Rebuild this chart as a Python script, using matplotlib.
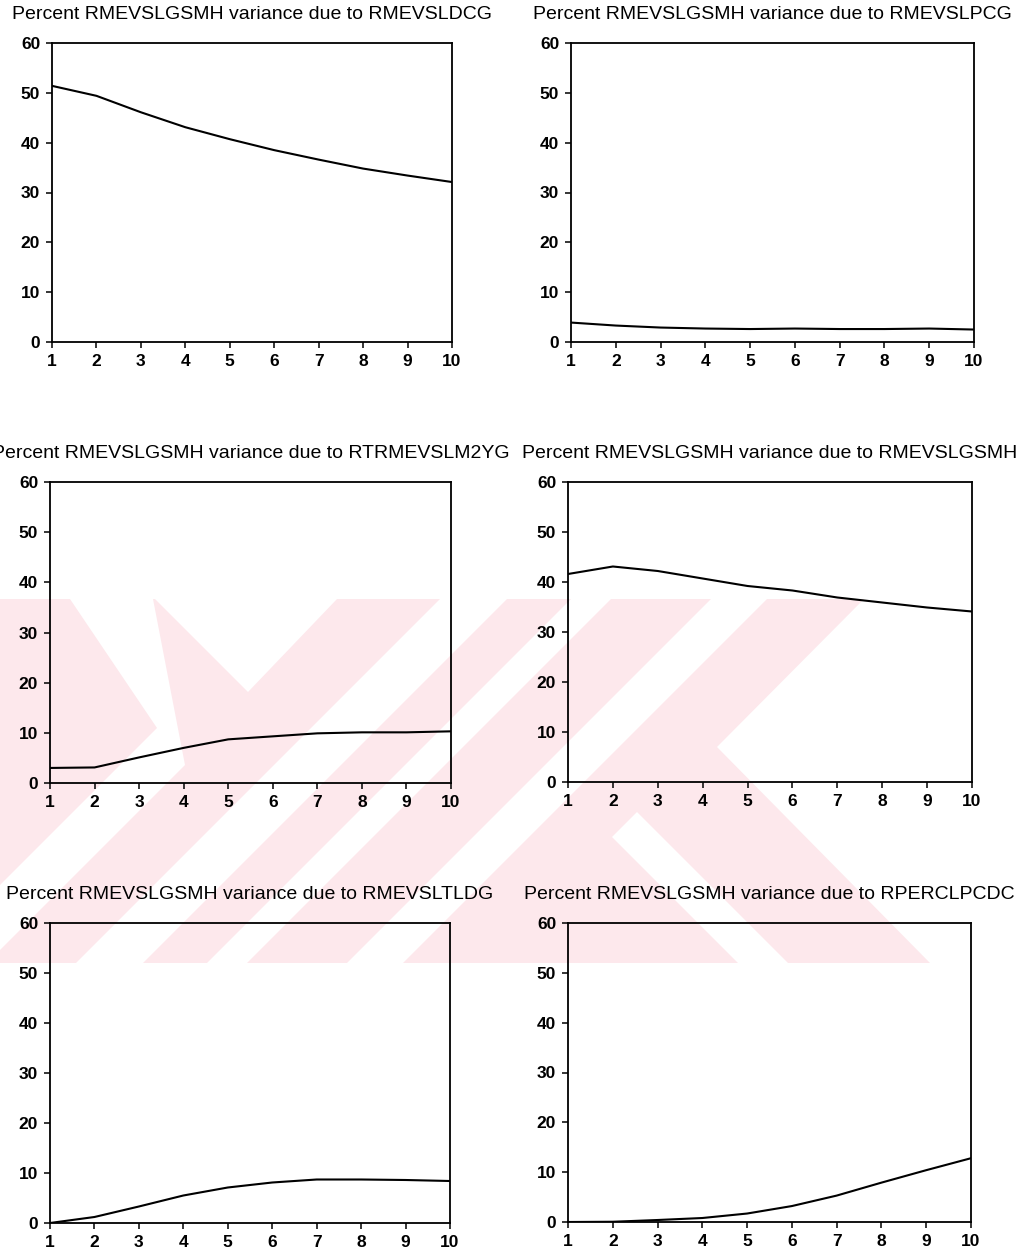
import matplotlib
matplotlib.use("Agg")
import matplotlib.pyplot as plt
from matplotlib.patches import Polygon

plt.rcParams["font.family"] = ["Liberation Sans", "DejaVu Sans"]

W, H = 1030, 1252

response = "RMEVSLGSMH"
shocks = ["RMEVSLDCG", "RMEVSLPCG", "RTRMEVSLM2YG", "RMEVSLGSMH", "RMEVSLTLDG", "RPERCLPCDC"]
horizon = [1, 2, 3, 4, 5, 6, 7, 8, 9, 10]

share_dcg = [51.4, 49.4, 46.1, 43.1, 40.7, 38.5, 36.6, 34.8, 33.4, 32.1]
share_pcg = [3.9, 3.3, 2.9, 2.7, 2.6, 2.7, 2.6, 2.6, 2.7, 2.5]
share_m2yg = [3.0, 3.1, 5.1, 7.0, 8.7, 9.3, 9.9, 10.1, 10.1, 10.3]
share_gsmh = [41.6, 43.1, 42.2, 40.7, 39.2, 38.3, 36.9, 35.9, 34.9, 34.1]
share_tldg = [0.0, 1.2, 3.3, 5.5, 7.1, 8.1, 8.7, 8.7, 8.6, 8.4]
share_pcdc = [0.0, 0.05, 0.4, 0.8, 1.7, 3.2, 5.3, 7.9, 10.4, 12.8]
series = [share_dcg, share_pcg, share_m2yg, share_gsmh, share_tldg, share_pcdc]

y_ticks = [0, 10, 20, 30, 40, 50, 60]

# panel boxes in pixels: left, right, top, bottom
boxes = [
    (52, 452, 43, 342), (571, 974, 43, 342),
    (50, 451, 482, 783), (568, 972, 482, 782),
    (50, 450, 923, 1223), (568, 971, 923, 1222),
]


def fig_xy(x, y):
    return (x / W, 1 - y / H)


fig = plt.figure(figsize=(W / 100, H / 100), dpi=100)
fig.patch.set_facecolor("white")

# faint background stamp across the middle band
pink = "#fde8ec"
band_top, band_bot = 599, 963


def add_shape(pts, color):
    fig.patches.append(Polygon([fig_xy(*p) for p in pts], closed=True,
                               transform=fig.transFigure, facecolor=color,
                               edgecolor="none", zorder=-2))


def slash_stripe(a, b):
    # band of x + y between a and b, clipped to the stamp rows
    return [(a - band_top, band_top), (b - band_top, band_top),
            (b - band_bot, band_bot), (a - band_bot, band_bot)]


add_shape([(0, band_top), (W, band_top), (W, band_bot), (0, band_bot)], pink)
white_shapes = [
    [(155, 599), (337, 599), (248, 692)],
    [(70, 599), (153, 599), (185, 765), (0, 950), (0, 885), (157, 728)],
    slash_stripe(1039, 1106),
    slash_stripe(1170, 1210),
    slash_stripe(1310, 1366),
    [(717, 747), (864, 599), (W, 599), (W, 963), (930, 963)],
    [(612, 837), (637, 812), (788, 963), (738, 963)],
]
for shape in white_shapes:
    add_shape(shape, "white")

for (left, right, top, bottom), shock, values in zip(boxes, shocks, series):
    x0, y0 = fig_xy(left, bottom)
    ax = fig.add_axes([x0, y0, (right - left) / W, (bottom - top) / H])
    ax.set_facecolor("none")
    ax.plot(horizon, values, color="black", lw=1.5, solid_joinstyle="round")
    ax.set_xlim(1, 10)
    ax.set_ylim(0, 60)
    ax.set_xticks(horizon)
    ax.set_yticks(y_ticks)
    for side in ax.spines.values():
        side.set_linewidth(1.3)
    ax.tick_params(direction="out", length=4.5, width=1.1, pad=4,
                   labelsize=12.5, top=False, right=False)
    for lab in ax.get_xticklabels() + ax.get_yticklabels():
        lab.set_fontweight("bold")

    cx = (left + right) / 2 / W
    fig.text(cx, 1 - (top - 24) / H,
             f"Percent {response} variance due to {shock}",
             ha="center", va="baseline", fontsize=14)

fig.savefig("out.png", dpi=100)
